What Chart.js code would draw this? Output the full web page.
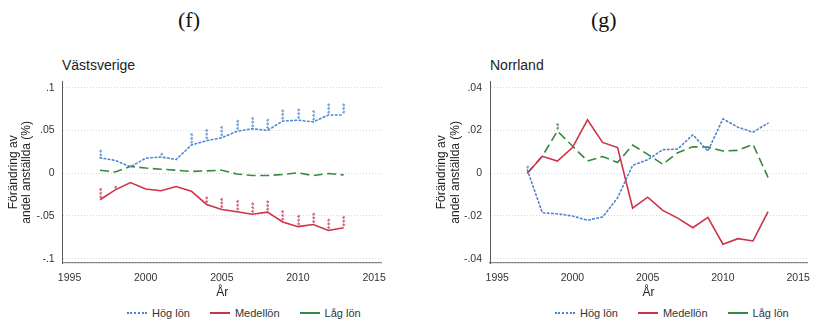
<!DOCTYPE html>
<html>
<head>
<meta charset="utf-8">
<script src="https://cdn.jsdelivr.net/npm/chart.js@4/dist/chart.umd.min.js"></script>
<style>
  html, body { margin: 0; padding: 0; background: #fff; }
  body { width: 819px; height: 323px; position: relative; overflow: hidden;
         font-family: "Liberation Sans", Arial, sans-serif; color: #222; }
  .tag { position: absolute; top: 7px; font-family: "Liberation Serif", "Times New Roman", serif;
         font-size: 22px; color: #111; }
  .ptitle { position: absolute; top: 57px; font-size: 14px; color: #222; }
  .box { position: absolute; top: 40px; height: 265px; }
  .legend { position: absolute; top: 306px; height: 14px; display: flex; align-items: center;
            font-size: 11px; color: #333; white-space: nowrap; }
  .legend .item { display: flex; align-items: center; margin-right: 20px; }
  .legend .item:last-child { margin-right: 0; }
  .legend .key { width: 20px; height: 0; margin-right: 5px; }
</style>
</head>
<body>
<div class="tag" style="left:178px">(f)</div>
<div class="tag" style="left:591px">(g)</div>
<div class="ptitle" style="left:62px">Västsverige</div>
<div class="ptitle" style="left:490px">Norrland</div>
<div class="box" style="left:0;width:405px"><canvas id="west" width="405" height="265"></canvas></div>
<div class="box" style="left:410px;width:409px"><canvas id="north" width="409" height="265"></canvas></div>
<div class="legend" id="legWest"></div>
<div class="legend" id="legNorth"></div>

<script>
// Years and axis ticks
const years = [1997, 1998, 1999, 2000, 2001, 2002, 2003, 2004, 2005, 2006, 2007, 2008, 2009, 2010, 2011, 2012, 2013];
const xTicks = [1995, 2000, 2005, 2010, 2015];

const seriesNames = ['Hög lön', 'Medellön', 'Låg lön'];

// Västsverige: change in share of employees by wage level
const westHog   = [0.018, 0.015, 0.0075, 0.0175, 0.019, 0.016, 0.033, 0.038, 0.0415, 0.049, 0.052, 0.050, 0.061, 0.062, 0.060, 0.068, 0.068];
const westMedel = [-0.031, -0.0195, -0.011, -0.0185, -0.0205, -0.0155, -0.021, -0.0365, -0.0425, -0.045, -0.048, -0.0455, -0.057, -0.0625, -0.060, -0.067, -0.0638];
const westLag   = [0.0035, 0.0015, 0.008, 0.006, 0.0047, 0.0035, 0.002, 0.0027, 0.0035, -0.001, -0.0027, -0.0027, -0.0015, 0.0004, -0.0027, -0.0004, -0.002];
// significance stars
const westHogStars   = ['**', '', '', '', '*', '', '***', '***', '***', '***', '***', '***', '***', '***', '***', '***', '***'];
const westMedelStars = ['***', '*', '', '', '', '', '', '**', '***', '***', '***', '***', '***', '***', '***', '***', '***'];
const westLagStars   = ['', '', '', '', '', '', '', '', '', '', '', '', '', '', '', '', ''];
const westYTicks  = [-0.1, -0.05, 0, 0.05, 0.1];
const westYLabels = ['-.1', '-.05', '0', '.05', '.1'];

// Norrland
const northHog   = [0.0015, -0.0185, -0.019, -0.020, -0.022, -0.0205, -0.0115, 0.0037, 0.0063, 0.011, 0.0113, 0.018, 0.0104, 0.0254, 0.0215, 0.0192, 0.0234];
const northMedel = [0.0, 0.0079, 0.0057, 0.012, 0.025, 0.0144, 0.012, -0.0163, -0.0112, -0.0174, -0.021, -0.0255, -0.0207, -0.0332, -0.0306, -0.0317, -0.018];
const northLag   = [0.0, 0.008, 0.0197, 0.0127, 0.0057, 0.0078, 0.005, 0.0132, 0.0088, 0.0042, 0.0096, 0.0124, 0.0122, 0.0104, 0.0107, 0.0135, -0.002];
const northHogStars   = ['*', '', '', '', '', '', '', '', '', '', '', '', '', '', '', '', ''];
const northMedelStars = ['', '', '', '', '', '', '', '', '', '', '', '', '', '', '', '', ''];
const northLagStars   = ['', '', '**', '', '', '', '', '', '', '', '', '', '', '', '', '', ''];
const northYTicks  = [-0.04, -0.02, 0, 0.02, 0.04];
const northYLabels = ['-.04', '-.02', '0', '.02', '.04'];

const styles = [
  { color: '#4a86d4', dash: [1.6, 2.6], cap: 'round' },
  { color: '#cc3347', dash: [], cap: 'butt' },
  { color: '#35893f', dash: [9, 4.5], cap: 'butt' }
];

const toPoints = arr => years.map((yr, i) => ({ x: yr, y: arr[i] }));

// Draws the significance stars as rotated text above each point
const starPlugin = {
  id: 'sigStars',
  afterDatasetsDraw(chart) {
    const ctx = chart.ctx;
    chart.data.datasets.forEach((ds, di) => {
      if (!ds.stars) return;
      const meta = chart.getDatasetMeta(di);
      ctx.save();
      ctx.fillStyle = ds.borderColor;
      ctx.font = '9.5px "Liberation Sans", Arial, sans-serif';
      ctx.textAlign = 'left';
      ctx.textBaseline = 'middle';
      meta.data.forEach((pt, i) => {
        const s = ds.stars[i];
        if (!s) return;
        ctx.save();
        ctx.translate(pt.x + 2, pt.y - 1);
        ctx.rotate(-Math.PI / 2);
        ctx.fillText(s, 0, 0);
        ctx.restore();
      });
      ctx.restore();
    });
  }
};

function makeChart(id, cfg) {
  const datasets = cfg.series.map((arr, k) => ({
    label: seriesNames[k],
    data: toPoints(arr),
    stars: cfg.stars[k],
    borderColor: styles[k].color,
    backgroundColor: styles[k].color,
    borderWidth: 1.6,
    borderDash: styles[k].dash,
    borderCapStyle: styles[k].cap,
    pointRadius: 0,
    tension: 0,
    fill: false
  }));
  return new Chart(document.getElementById(id), {
    type: 'line',
    data: { datasets },
    plugins: [starPlugin],
    options: {
      responsive: false,
      animation: false,
      events: [],
      layout: { padding: { left: 0, top: 41.7, right: cfg.padRight, bottom: 0 } },
      plugins: { legend: { display: false }, tooltip: { enabled: false }, title: { display: false } },
      scales: {
        x: {
          type: 'linear',
          min: cfg.xMin, max: cfg.xMax,
          afterBuildTicks: s => { s.ticks = xTicks.map(v => ({ value: v })); },
          afterFit: s => { s.height = 42; },
          ticks: { autoSkip: false, maxRotation: 0, padding: 9, color: '#333',
                   font: { size: 10.5, family: '"Liberation Sans", Arial, sans-serif' },
                   callback: v => String(v) },
          grid: { display: true, drawOnChartArea: false, drawTicks: false },
          border: { display: true, color: '#8a8a8a', width: 1.2 },
          title: { display: true, text: 'År', color: '#222', padding: { top: 0, bottom: 5 },
                   font: { size: 12, family: '"Liberation Sans", Arial, sans-serif' } }
        },
        y: {
          type: 'linear',
          min: cfg.yMin, max: cfg.yMax,
          afterBuildTicks: s => { s.ticks = cfg.yTicks.map(v => ({ value: v })); },
          afterFit: s => { s.width = cfg.yWidth; },
          ticks: { autoSkip: false, padding: 8, color: '#333',
                   font: { size: 10.5, family: '"Liberation Sans", Arial, sans-serif' },
                   callback: v => cfg.yLabels[cfg.yTicks.indexOf(v)] },
          grid: { display: true, drawOnChartArea: true, drawTicks: false, color: '#d6d6d6', lineWidth: 1 },
          border: { display: true, color: '#5a5a5a', width: 1, dash: [1, 2] },
          title: { display: true, text: ['Förändring av', 'andel anställda (%)'], color: '#222',
                   padding: { top: cfg.titlePad, bottom: 0 },
                   font: { size: 12, lineHeight: 1.1, family: '"Liberation Sans", Arial, sans-serif' } }
        }
      }
    }
  });
}

makeChart('west', {
  series: [westHog, westMedel, westLag],
  stars: [westHogStars, westMedelStars, westLagStars],
  yTicks: westYTicks, yLabels: westYLabels,
  yMin: -0.105, yMax: 0.107,
  xMin: 1994.55, xMax: 2015.5,
  yWidth: 62.7, padRight: 23.3, titlePad: 6.7
});

makeChart('north', {
  series: [northHog, northMedel, northLag],
  stars: [northHogStars, northMedelStars, northLagStars],
  yTicks: northYTicks, yLabels: northYLabels,
  yMin: -0.042, yMax: 0.0428,
  xMin: 1994.52, xMax: 2015.6,
  yWidth: 80, padRight: 6, titlePad: 25.4
});

// Legends under each panel
function buildLegend(id, left) {
  const el = document.getElementById(id);
  seriesNames.forEach((name, k) => {
    const item = document.createElement('div');
    item.className = 'item';
    const key = document.createElement('span');
    key.className = 'key';
    key.style.borderTop = (k === 0 ? '2px dotted ' : '2px solid ') + styles[k].color;
    const txt = document.createElement('span');
    txt.textContent = name;
    item.appendChild(key);
    item.appendChild(txt);
    el.appendChild(item);
  });
  el.style.left = left + 'px';
}
buildLegend('legWest', 127);
buildLegend('legNorth', 555);
</script>
</body>
</html>
